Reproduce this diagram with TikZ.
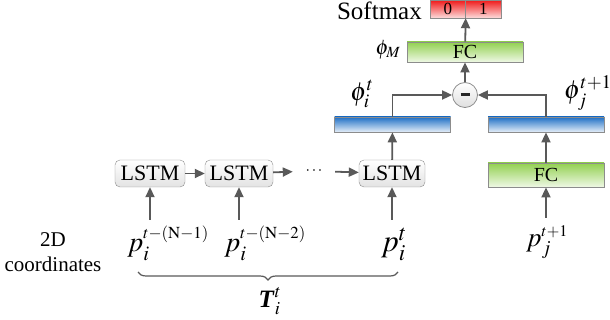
\documentclass[tikz,border=0pt]{standalone}
\usepackage{mathptmx}
\usepackage{fontspec}
\setmainfont{Liberation Serif}
\usepackage{tikz}
\usetikzlibrary{arrows.meta,decorations.pathreplacing}

\definecolor{arrgray}{HTML}{595959}
\definecolor{boxgray}{HTML}{8C8C8C}
\definecolor{fcgreen}{HTML}{92D050}
\definecolor{featblue}{HTML}{1F6FC5}
\definecolor{smred}{HTML}{F01818}

\newcommand{\fs}[1]{\fontsize{#1}{#1}\selectfont}

\begin{document}
\begin{tikzpicture}[
    x=1pt, y=-1pt,
    arr/.style={-{Triangle[length=10pt,width=9pt]}, line width=1.8pt, draw=arrgray},
    lstm/.style={draw=boxgray, rounded corners=5pt, top color=white, bottom color=gray!22, minimum height=27pt, inner sep=0pt, font=\fs{22}},
    fc/.style={draw=boxgray, line width=0.8pt, top color=fcgreen, bottom color=fcgreen!15, minimum width=116pt, inner sep=0pt, font=\fs{20}},
    feat/.style={draw=boxgray, line width=0.8pt, top color=featblue, bottom color=featblue!12, minimum width=116pt, minimum height=15pt, inner sep=0pt},
    smax/.style={draw=boxgray, top color=smred, bottom color=smred!15, minimum width=35.5pt, minimum height=18pt, inner sep=0pt, font=\fs{17}},
    lbl/.style={inner sep=0pt}
]
\useasboundingbox (0,0) rectangle (610,320);

% softmax output
\node[smax] (sm0) at (447.75,9) {0};
\node[smax] (sm1) at (483.25,9) {1};
\node[lbl, anchor=east, font=\fs{25}] (smtxt) at (422,11) {Softmax};

% matching branch
\node[fc, minimum height=20pt] (fctop) at (465,52) {FC};
\node[lbl, font=\fs{21}] (phim) at (388,50) {$\phi_{M}$};
\node[circle, draw=boxgray, line width=0.8pt, top color=white, bottom color=gray!25, minimum size=25pt, inner sep=0pt] (diff) at (465,95) {\raisebox{-1pt}{\color{black!85}\rule{9pt}{3pt}}};

\node[feat] (lbar) at (392.5,124.5) {};
\node[feat] (rbar) at (546,124.5) {};
\node[lbl, font=\fs{26}] (phii) at (362,94) {$\phi_{i}^{t}$};
\node[lbl, font=\fs{26}] (phij) at (588,93) {$\phi_{j}^{t+1}$};

\node[fc, minimum height=24pt] (fcbot) at (546,175) {FC};
\node[lbl, font=\fs{27}] (pj) at (547,242) {$p_{j}^{\scriptscriptstyle t+1}$};

% LSTM chain
\node[lstm, minimum width=70pt] (l1) at (150,173.5) {LSTM};
\node[lstm, minimum width=68pt] (l2) at (239,173.5) {LSTM};
\node[lbl, minimum width=42pt, font=\fs{16}] (dots) at (314,171) {$\cdots$};
\node[lstm, minimum width=66pt] (l3) at (392,173.5) {LSTM};

\node[lbl, font=\fs{28}] (p1) at (168,243) {$p_{i}^{\scriptscriptstyle t-(\mathrm{N}-1)}$};
\node[lbl, font=\fs{28}] (p2) at (265,243) {$p_{i}^{\scriptscriptstyle t-(\mathrm{N}-2)}$};
\node[lbl, font=\fs{31}] (p3) at (394,244) {$p_{i}^{t}$};

\node[lbl, align=center, font=\fs{21}] (coord) at (53,252) {2D\\[4pt]coordinates};

\coordinate (bl) at (138,272);
\coordinate (br) at (398,272);
\node[lbl, font=\fs{25}] (traj) at (270,301) {$\textbf{\textit{T}}_{i}^{t}$};

% connectors
\draw[arr] (l1.south |- 0,220) -- (l1.south);
\draw[arr] (l2.south |- 0,220) -- (l2.south);
\draw[arr] (l3.south |- 0,220) -- (l3.south);
\draw[arr] (l1) -- (l2);
\draw[arr] (l2) -- (dots);
\draw[arr] (dots) -- (l3);
\draw[arr] (l3) -- (lbar);
\draw[arr] (lbar.north) |- (diff.west);
\draw[arr] (rbar.north) |- (diff.east);
\draw[arr] (fcbot.south |- 0,218) -- (fcbot.south);
\draw[arr] (fcbot) -- (rbar);
\draw[arr] (diff) -- (fctop);
\draw[arr] (fctop) -- (sm0.south east);

\draw[line width=1.2pt, draw=arrgray, decorate, decoration={brace, mirror, amplitude=8pt}] (bl) -- (br);
\end{tikzpicture}
\end{document}
